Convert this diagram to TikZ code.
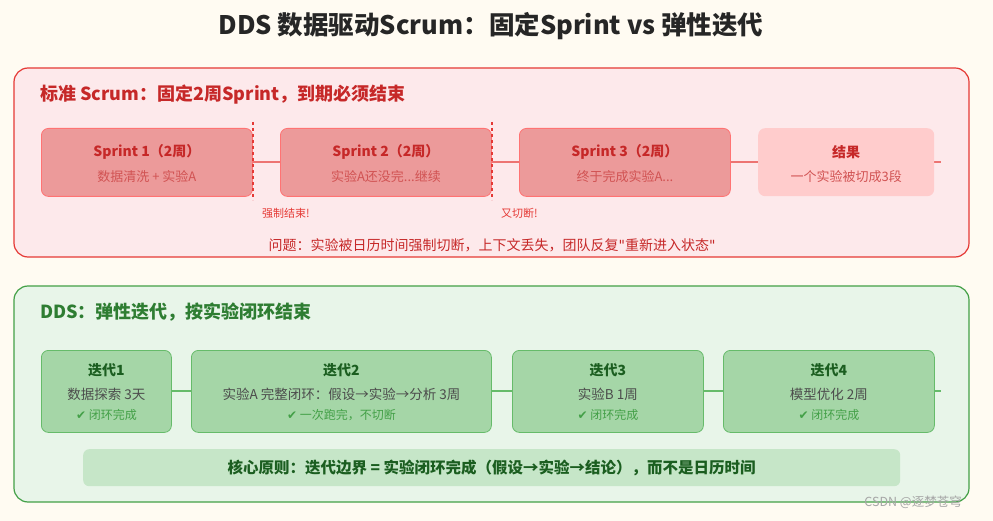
\documentclass[tikz,border=0pt]{standalone}
\usepackage{fontspec}
\setmainfont{Noto Sans CJK SC}
\newfontfamily\chk{DejaVu Sans}
\begin{document}
\begin{tikzpicture}[x=1pt,y=-1pt,
  rbox/.style={draw=red!55!white,fill=rfill,rounded corners=7pt,line width=0.8pt},
  gbox/.style={draw=gline,fill=gfill,rounded corners=7pt,line width=0.8pt},
  t/.style={inner sep=0pt,anchor=center}]
\definecolor{bg}{HTML}{FFFBF2}
\definecolor{rpan}{HTML}{FDE9EB}
\definecolor{rline}{HTML}{E53935}
\definecolor{rfill}{HTML}{EC9A9A}
\definecolor{rdark}{HTML}{C62828}
\definecolor{gpan}{HTML}{E8F5E9}
\definecolor{gline}{HTML}{66BB6A}
\definecolor{gfill}{HTML}{A5D6A7}
\definecolor{gdark}{HTML}{1B5E20}
\definecolor{gmid}{HTML}{2E7D32}
\definecolor{gtxt}{HTML}{43A047}
\fill[bg] (0,0) rectangle (993,521);
\useasboundingbox (0,0) rectangle (993,521);
\node[t,font=\bfseries\fontsize{25.5}{29}\selectfont,text=black!85] (title) at (491,26) {DDS 数据驱动Scrum：固定Sprint vs 弹性迭代};
% red panel
\draw[rline,fill=rpan,line width=1.2pt,rounded corners=14pt] (14,68) rectangle (969,257);
\node[t,anchor=west,font=\bfseries\fontsize{18}{20}\selectfont,text=rdark] (rh) at (40,95) {标准 Scrum：固定2周Sprint，到期必须结束};
\coordinate (rs) at (41,162); \coordinate (re) at (941,162);
\draw[rline!70,line width=1.5pt] (rs) -- (re);
\node[rbox,minimum width=211pt,minimum height=68pt,anchor=north west] (s1) at (41,128) {};
\node[rbox,minimum width=211pt,minimum height=68pt,anchor=north west] (s2) at (280,128) {};
\node[rbox,minimum width=211pt,minimum height=68pt,anchor=north west] (s3) at (519,128) {};
\node[fill=red!20,rounded corners=7pt,minimum width=176pt,minimum height=68pt,anchor=north west] (s4) at (758,128) {};
\foreach \n/\a/\b in {s1/{Sprint 1（2周）}/{数据清洗 + 实验A},s2/{Sprint 2（2周）}/{实验A还没完...继续},s3/{Sprint 3（2周）}/{终于完成实验A...},s4/{结果}/{一个实验被切成3段}}{
  \node[t,font=\bfseries\fontsize{14}{16}\selectfont,text=rdark] at ([yshift=10pt]\n.center) {\a};
  \node[t,font=\fontsize{13}{15}\selectfont,text=rdark!80] at ([yshift=-14pt]\n.center) {\b};
}
\coordinate (d1a) at (253,122); \coordinate (d1b) at (253,200);
\coordinate (d2a) at (492,122); \coordinate (d2b) at (492,200);
\draw[rline,dashed,line width=1.3pt] (d1a) -- (d1b);
\draw[rline,dashed,line width=1.3pt] (d2a) -- (d2b);
\node[t,anchor=west,font=\fontsize{11}{13}\selectfont,text=rline] (c1) at (262,213) {强制结束!};
\node[t,anchor=west,font=\fontsize{11}{13}\selectfont,text=rline] (c2) at (501,213) {又切断!};
\node[t,font=\fontsize{14}{16}\selectfont,text=rdark] (prob) at (492,245) {问题：实验被日历时间强制切断，上下文丢失，团队反复{\chk\symbol{34}}重新进入状态{\chk\symbol{34}}};
% green panel
\draw[gtxt,fill=gpan,line width=1.2pt,rounded corners=14pt] (14,286) rectangle (969,502);
\node[t,anchor=west,font=\bfseries\fontsize{18}{20}\selectfont,text=gmid] (gh) at (40,312) {DDS：弹性迭代，按实验闭环结束};
\coordinate (gs) at (41,391); \coordinate (ge) at (941,391);
\draw[gline,line width=1.5pt] (gs) -- (ge);
\node[gbox,minimum width=130pt,minimum height=82pt,anchor=north west] (i1) at (41,350) {};
\node[gbox,minimum width=300pt,minimum height=82pt,anchor=north west] (i2) at (191,350) {};
\node[gbox,minimum width=191pt,minimum height=82pt,anchor=north west] (i3) at (512,350) {};
\node[gbox,minimum width=211pt,minimum height=82pt,anchor=north west] (i4) at (723,350) {};
\foreach \n/\a/\b/\c in {i1/迭代1/数据探索 3天/闭环完成,i2/迭代2/{实验A 完整闭环：假设→实验→分析 3周}/{一次跑完，不切断},i3/迭代3/实验B 1周/闭环完成,i4/迭代4/模型优化 2周/闭环完成}{
  \node[t,font=\bfseries\fontsize{14}{16}\selectfont,text=gdark] at ([yshift=21pt]\n.center) {\a};
  \node[t,font=\fontsize{13.5}{15}\selectfont,text=black!70] at ([yshift=-3pt]\n.center) {\b};
  \node[t,font=\fontsize{12}{14}\selectfont,text=gtxt] at ([yshift=-24pt]\n.center) {{\chk ✔} \c};
}
\node[fill=gpan!50!gfill,rounded corners=6pt,minimum width=817pt,minimum height=37pt,anchor=north west] (core) at (83,449) {};
\node[t,font=\bfseries\fontsize{15.5}{17}\selectfont,text=gdark] at (core.center) {核心原则：迭代边界 = 实验闭环完成（假设→实验→结论），而不是日历时间};
\node[t,anchor=east,font=\fontsize{12.5}{14}\selectfont,text=black!35] (wm) at (962,502) {CSDN @逐梦苍穹};
\end{tikzpicture}
\end{document}
